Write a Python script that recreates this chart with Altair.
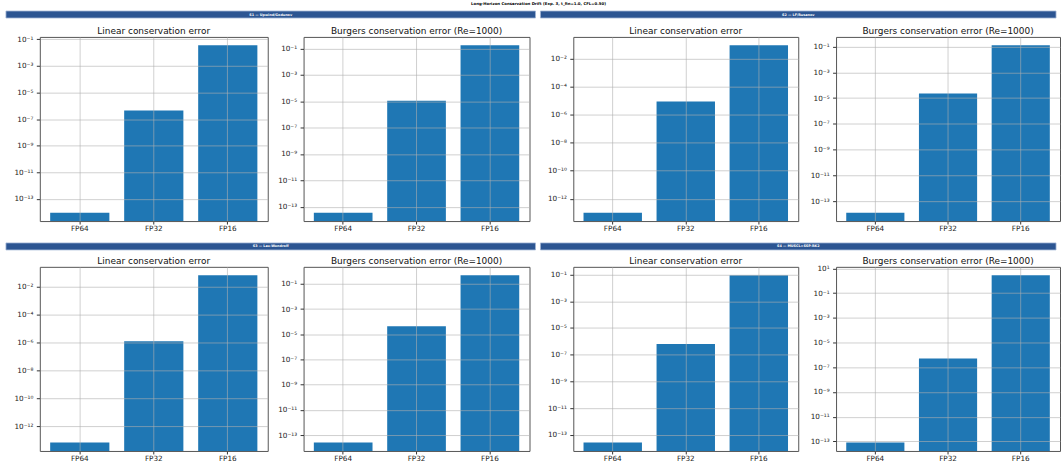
import math
import altair as alt
import pandas as pd

TITLE = "Long-Horizon Conservation Drift (Exp. 3, t_fin=1.0, CFL=0.50)"
schemes = ["S1 — Upwind/Godunov", "S2 — LF/Rusanov", "S3 — Lax-Wendroff", "S4 — MUSCL+SSP-RK2"]
precisions = ["FP64", "FP32", "FP16"]
panel_titles = ["Linear conservation error", "Burgers conservation error (Re=1000)"]

linear_s1 = [9.4e-15, 4.5e-7, 3.5e-2]
linear_s2 = [1.0e-13, 8.9e-6, 9.5e-2]
linear_s3 = [6.5e-14, 1.2e-6, 6.5e-2]
linear_s4 = [2.6e-14, 6.3e-7, 8.9e-2]
burgers_s1 = [3.5e-14, 1.1e-5, 1.8e-1]
burgers_s2 = [1.25e-14, 2.3e-5, 1.26e-1]
burgers_s3 = [2.6e-14, 4.3e-5, 4.8e-1]
burgers_s4 = [8.0e-14, 5.0e-7, 2.8]

# labelled decades on each panel's y axis
ticks_lin = [[-13, -11, -9, -7, -5, -3, -1],
             [-12, -10, -8, -6, -4, -2],
             [-12, -10, -8, -6, -4, -2],
             [-13, -11, -9, -7, -5, -3, -1]]
ticks_bur = [[-13, -11, -9, -7, -5, -3, -1],
             [-13, -11, -9, -7, -5, -3, -1],
             [-13, -11, -9, -7, -5, -3, -1],
             [-13, -11, -9, -7, -5, -3, -1, 1]]

linear = [linear_s1, linear_s2, linear_s3, linear_s4]
burgers = [burgers_s1, burgers_s2, burgers_s3, burgers_s4]

SUP = str.maketrans("-0123456789", "⁻⁰¹²³⁴⁵⁶⁷⁸⁹")
BAR = "#1f77b4"
HEAD = "#2c5592"
FONT = "DejaVu Sans"
LABEL_FS = 7.3


def label_expr(exps):
    parts = [f"round(log(datum.value)/LN10) == {e} ? '10{str(e).translate(SUP)}'" for e in exps]
    return " : ".join(parts) + " : ''"


def panel(values, title, exps, width, height, extent):
    lmin = math.log10(min(values))
    lmax = math.log10(max(values))
    m = 0.05 * (lmax - lmin)
    lo_l, hi_l = lmin - m, lmax + m
    lo, hi = 10 ** lo_l, 10 ** hi_l
    # keep the title at the same gap above the frame even when the top tick label pokes out
    top_gap = (hi_l - max(exps)) / (hi_l - lo_l) * height
    overflow = max(0.0, LABEL_FS / 2 - top_gap)
    df = pd.DataFrame({"prec": precisions, "err": values, "base": [lo] * len(values)})
    common = dict(gridColor="#b0b0b0", gridOpacity=0.6, domain=False,
                  tickColor="#333", labelFontSize=LABEL_FS, labelColor="#222",
                  zindex=1, title=None, grid=True)
    return (
        alt.Chart(df)
        .mark_bar(color=BAR)
        .encode(
            x=alt.X("prec:N", sort=precisions,
                    scale=alt.Scale(paddingInner=0.2, paddingOuter=0.14),
                    axis=alt.Axis(labelAngle=0, bandPosition=0.5, tickSize=3,
                                  labelPadding=0.5, **common)),
            y=alt.Y("err:Q",
                    scale=alt.Scale(type="log", domain=[lo, hi], nice=False, zero=False),
                    axis=alt.Axis(values=[10.0 ** e for e in exps], labelExpr=label_expr(exps),
                                  tickSize=3.5, labelPadding=3.5,
                                  minExtent=extent, maxExtent=extent, **common)),
            y2="base:Q",
        )
        .properties(
            width=width, height=height,
            title=alt.TitleParams(title, fontSize=9, fontWeight="normal",
                                  anchor="middle", offset=round(1 - overflow, 2),
                                  color="#111"),
        )
    )


def header(text, left, right):
    # decorative band spanning the two panels of a scheme (pixel extent of the band)
    df = pd.DataFrame({"t": [text]})
    band = alt.Chart(df).mark_rect(color=HEAD, stroke="#9fb3d4", strokeWidth=0.8).encode(
        x=alt.value(-left), x2=alt.value(right), y=alt.value(0), y2=alt.value(7))
    label = alt.Chart(df).mark_text(color="white", fontSize=3.4, fontWeight="bold").encode(
        text="t:N", x=alt.value((right - left) / 2), y=alt.value(3.5))
    return alt.layer(band, label).properties(width=right, height=7,
                                              view=alt.ViewBackground(stroke=None))


def group(i, h, vgap):
    if i % 2 == 0:
        hdr = header(schemes[i], 34, 498)
        w1, w2, e1, gap = 229, 227, 34, 8
    else:
        hdr = header(schemes[i], 33, 485)
        w1, w2, e1, gap = 226, 225, 33, 10
    return alt.vconcat(
        hdr,
        alt.hconcat(
            panel(linear[i], panel_titles[0], ticks_lin[i], w1, h, e1),
            panel(burgers[i], panel_titles[1], ticks_bur[i], w2, h, 26),
            spacing=gap,
        ),
        spacing=vgap,
    )


title_chart = (
    alt.Chart(pd.DataFrame({"t": [TITLE]}))
    .mark_text(fontSize=3.9, fontWeight="bold", color="black")
    .encode(text="t:N")
    .properties(width=1002, height=6, view=alt.ViewBackground(stroke=None))
)

row1 = alt.hconcat(group(0, 185, 7), group(1, 185, 7), spacing=3)
row2 = alt.hconcat(group(2, 185, 5), group(3, 185, 5), spacing=3)

chart = (
    alt.vconcat(alt.vconcat(title_chart, row1, spacing=3), row2, spacing=9)
    .properties(padding={"left": 5, "top": 0, "right": 0, "bottom": 0})
    .configure(font=FONT)
    .configure_view(stroke="#555", strokeWidth=1)
)

chart.save("out.html", embed_options={"renderer": "svg", "actions": False})
